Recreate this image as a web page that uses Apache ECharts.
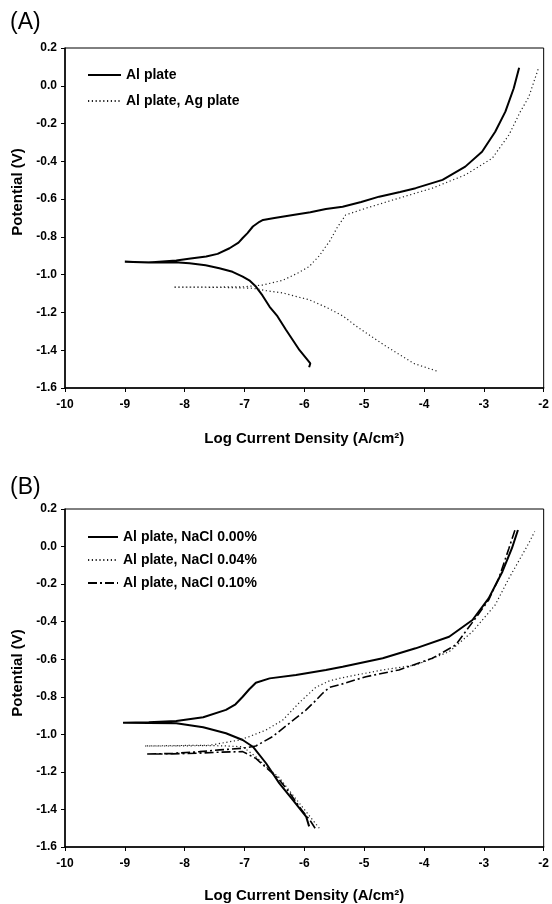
<!DOCTYPE html>
<html>
<head>
<meta charset="utf-8">
<script src="https://cdn.jsdelivr.net/npm/echarts@6/dist/echarts.min.js"></script>
<style>html,body{margin:0;padding:0;background:#fff;}#c{width:552px;height:904px;}</style>
</head>
<body>
<div id="c"></div>
<script>
// ---- Data (log current density, potential V) ----
var xTicks = [-10, -9, -8, -7, -6, -5, -4, -3, -2];
var yTicks = [0.2, 0.0, -0.2, -0.4, -0.6, -0.8, -1.0, -1.2, -1.4, -1.6];

var namesA = ['Al plate', 'Al plate, Ag plate'];
var namesB = ['Al plate, NaCl 0.00%', 'Al plate, NaCl 0.04%', 'Al plate, NaCl 0.10%'];

// Panel A: Al plate (cathodic branch -> Ecorr tip -> anodic branch)
var alPlate = [[-5.92,-1.49],[-5.90,-1.47],[-6.08,-1.40],[-6.31,-1.29],[-6.45,-1.22],[-6.58,-1.17],[-6.70,-1.11],[-6.81,-1.063],[-6.92,-1.03],[-7.03,-1.01],[-7.2,-0.985],[-7.42,-0.966],[-7.65,-0.95],[-7.92,-0.94],[-8.1,-0.935],[-8.5,-0.935],[-9.0,-0.932],
  [-8.6,-0.935],[-8.14,-0.925],[-7.9,-0.915],[-7.64,-0.904],[-7.45,-0.89],[-7.25,-0.86],[-7.1,-0.83],[-7.03,-0.806],[-6.95,-0.78],[-6.86,-0.745],[-6.75,-0.72],[-6.69,-0.71],[-6.5,-0.70],[-6.19,-0.684],[-5.9,-0.67],[-5.64,-0.652],[-5.36,-0.64],[-5.05,-0.615],[-4.75,-0.587],[-4.4,-0.562],[-4.14,-0.542],[-3.69,-0.498],[-3.31,-0.428],[-3.03,-0.349],[-2.81,-0.243],[-2.64,-0.137],[-2.5,-0.013],[-2.41,0.096]];

// Panel A: Al plate, Ag plate
var alAgPlate = [[-3.79,-1.51],[-4.17,-1.47],[-4.63,-1.38],[-5.1,-1.28],[-5.35,-1.22],[-5.61,-1.176],[-5.92,-1.133],[-6.36,-1.097],[-6.63,-1.085],[-6.86,-1.072],[-7.3,-1.068],[-7.8,-1.066],[-8.19,-1.066],
  [-7.6,-1.066],[-7.0,-1.064],[-6.7,-1.055],[-6.36,-1.03],[-6.1,-0.99],[-5.92,-0.957],[-5.75,-0.9],[-5.64,-0.85],[-5.58,-0.825],[-5.45,-0.75],[-5.31,-0.684],[-4.97,-0.648],[-4.42,-0.595],[-3.86,-0.542],[-3.31,-0.472],[-2.86,-0.384],[-2.58,-0.26],[-2.39,-0.137],[-2.25,-0.06],[-2.09,0.09]];

// Panel B: NaCl 0.00%
var nacl000 = [[-5.92,-1.49],[-5.97,-1.438],[-6.19,-1.35],[-6.42,-1.26],[-6.64,-1.154],[-6.86,-1.066],[-7.03,-1.03],[-7.31,-0.994],[-7.69,-0.962],[-8.14,-0.941],[-8.6,-0.94],[-9.03,-0.938],
  [-8.6,-0.936],[-8.14,-0.929],[-7.69,-0.909],[-7.31,-0.87],[-7.15,-0.84],[-7.03,-0.80],[-6.92,-0.76],[-6.81,-0.725],[-6.58,-0.702],[-6.14,-0.684],[-5.64,-0.657],[-5.36,-0.64],[-4.69,-0.595],[-4.14,-0.542],[-3.58,-0.48],[-3.19,-0.391],[-2.92,-0.276],[-2.69,-0.134],[-2.53,-0.009],[-2.43,0.088]];

// Panel B: NaCl 0.04%
var nacl004 = [[-5.75,-1.50],[-5.85,-1.46],[-6.0,-1.40],[-6.2,-1.32],[-6.42,-1.23],[-6.64,-1.172],[-6.81,-1.119],[-7.03,-1.066],[-7.3,-1.062],[-7.58,-1.06],[-8.2,-1.062],[-8.67,-1.062],
  [-8.2,-1.06],[-7.58,-1.058],[-7.08,-1.03],[-6.92,-1.012],[-6.64,-0.977],[-6.36,-0.924],[-6.08,-0.83],[-5.81,-0.75],[-5.58,-0.715],[-5.36,-0.698],[-4.69,-0.657],[-4.14,-0.631],[-3.58,-0.56],[-3.19,-0.453],[-2.81,-0.311],[-2.58,-0.169],[-2.36,-0.045],[-2.25,0.017],[-2.15,0.08]];

// Panel B: NaCl 0.10%
var nacl010 = [[-5.82,-1.50],[-5.9,-1.46],[-6.05,-1.40],[-6.25,-1.31],[-6.45,-1.23],[-6.69,-1.163],[-6.81,-1.128],[-7.03,-1.092],[-7.42,-1.095],[-7.75,-1.10],[-8.2,-1.104],[-8.64,-1.105],
  [-8.2,-1.102],[-7.75,-1.092],[-7.42,-1.083],[-7.03,-1.074],[-6.81,-1.062],[-6.53,-1.012],[-6.25,-0.941],[-5.97,-0.87],[-5.81,-0.82],[-5.69,-0.78],[-5.58,-0.75],[-5.42,-0.737],[-4.97,-0.693],[-4.42,-0.657],[-3.86,-0.595],[-3.47,-0.524],[-3.14,-0.382],[-2.92,-0.285],[-2.75,-0.169],[-2.58,-0.009],[-2.48,0.088]];

// ---- Chart ----
var FONT = '"Liberation Sans", Arial, sans-serif';
var chart = echarts.init(document.getElementById('c'), null, {renderer: 'canvas'});

function xAxisCfg(gi, gap) {
  return {
    type: 'value', gridIndex: gi, min: xTicks[0], max: xTicks[xTicks.length - 1], interval: 1,
    name: 'Log Current Density (A/cm²)', nameLocation: 'middle', nameGap: gap,
    nameTextStyle: {fontFamily: FONT, fontWeight: 'bold', fontSize: 15, color: '#000'},
    axisLine: {show: true, onZero: false, lineStyle: {color: '#000', width: 1.5}},
    axisTick: {show: true, inside: false, length: 4, lineStyle: {color: '#000', width: 1}},
    axisLabel: {fontFamily: FONT, fontWeight: 'bold', fontSize: 12, color: '#000', margin: 11,
      formatter: function (v) { return String(Math.round(v)); }},
    splitLine: {show: false}
  };
}
function yAxisCfg(gi, shift) {
  return {
    type: 'value', gridIndex: gi, min: yTicks[yTicks.length - 1], max: yTicks[0], interval: 0.2,
    name: 'Potential (V)', nameLocation: 'middle', nameGap: 40, nameRotate: 90,
    nameTextStyle: {fontFamily: FONT, fontWeight: 'bold', fontSize: 15, color: '#000', padding: [0, 0, 0, shift]},
    axisLine: {show: true, onZero: false, lineStyle: {color: '#000', width: 1.5}},
    axisTick: {show: true, inside: false, length: 4, lineStyle: {color: '#000', width: 1}},
    axisLabel: {fontFamily: FONT, fontWeight: 'bold', fontSize: 12, color: '#000', margin: 8,
      formatter: function (v) { return (Math.abs(v) < 1e-9 ? 0 : v).toFixed(1); }},
    splitLine: {show: false}
  };
}
function lineSeries(name, data, gi, style) {
  return {
    type: 'line', name: name, data: data, xAxisIndex: gi, yAxisIndex: gi,
    showSymbol: false, symbol: 'none', smooth: false, animation: false,
    lineStyle: style, itemStyle: {color: style.color}
  };
}

var solid = {color: '#000', width: 2, type: 'solid'};
var dotted = {color: '#222', width: 1.2, type: [1.2, 2.6]};
var dashdot = {color: '#000', width: 1.6, type: [9, 3, 2, 3]};

var legendCommon = {
  orient: 'vertical', left: 87, padding: 0, itemWidth: 33, itemHeight: 14,
  itemStyle: {opacity: 0, borderWidth: 0},
  textStyle: {fontFamily: FONT, fontWeight: 'bold', fontSize: 14, color: '#000'}
};

var option = {
  backgroundColor: '#fff',
  animation: false,
  title: [
    {text: '(A)', left: 5, top: 6, textStyle: {fontFamily: FONT, fontSize: 23, fontWeight: 'normal', color: '#000'}},
    {text: '(B)', left: 5, top: 471, textStyle: {fontFamily: FONT, fontSize: 23, fontWeight: 'normal', color: '#000'}}
  ],
  grid: [
    {left: 65, right: 7, top: 48, height: 340, show: true, borderColor: '#000', borderWidth: 1, backgroundColor: 'transparent'},
    {left: 65, right: 7, top: 509, height: 338, show: true, borderColor: '#000', borderWidth: 1, backgroundColor: 'transparent'}
  ],
  legend: [
    Object.assign({}, legendCommon, {data: namesA, top: 68, itemGap: 12}),
    Object.assign({}, legendCommon, {data: namesB, top: 530, itemGap: 9, itemWidth: 30})
  ],
  xAxis: [xAxisCfg(0, 43), xAxisCfg(1, 41)],
  yAxis: [yAxisCfg(0, 52), yAxisCfg(1, 10)],
  series: [
    lineSeries(namesA[0], alPlate, 0, solid),
    lineSeries(namesA[1], alAgPlate, 0, dotted),
    lineSeries(namesB[0], nacl000, 1, solid),
    lineSeries(namesB[1], nacl004, 1, dotted),
    lineSeries(namesB[2], nacl010, 1, dashdot)
  ]
};
chart.setOption(option);
</script>
</body>
</html>
